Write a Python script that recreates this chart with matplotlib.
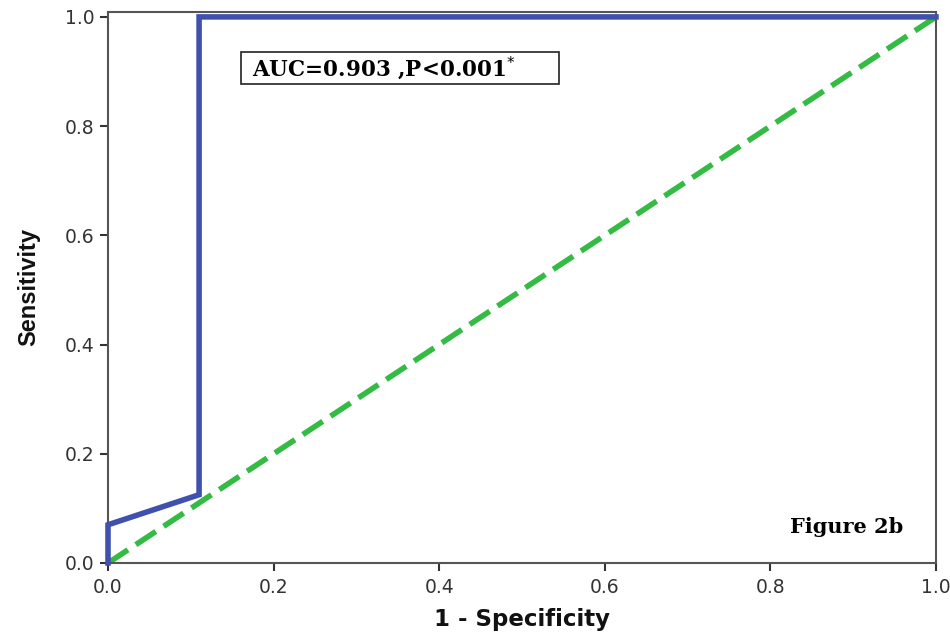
import numpy as np
import matplotlib.pyplot as plt
from matplotlib.patches import Rectangle

# ROC curve
fpr = [0.0, 0.0, 0.11, 0.11, 1.0]
tpr = [0.0, 0.07, 0.125, 1.0, 1.0]
ref_x = [0.0, 1.0]
ref_y = [0.0, 1.0]
ticks = [0.0, 0.2, 0.4, 0.6, 0.8, 1.0]

fig = plt.figure(figsize=(9.5, 6.35), dpi=100)
ax = fig.add_axes([108 / 950, 1 - 563 / 635, 828 / 950, 551 / 635])

ax.plot(ref_x, ref_y, color="#33bb44", linewidth=4, dashes=(4.3, 1.7),
        solid_capstyle="butt", zorder=2)
ax.plot(fpr, tpr, color="#3f51ac", linewidth=4, zorder=3,
        solid_joinstyle="miter", clip_on=False)

ax.set_xlim(0, 1.0)
ax.set_ylim(0, 1.009)
ax.set_xticks(ticks)
ax.set_yticks(ticks)
ax.set_xticklabels([f"{t:.1f}" for t in ticks])
ax.set_yticklabels([f"{t:.1f}" for t in ticks])
ax.tick_params(axis="both", labelsize=13.5, length=6, width=1.5,
               colors="#333333", labelcolor="#333333")
ax.tick_params(axis="x", pad=5)
for lab in ax.get_xticklabels() + ax.get_yticklabels():
    lab.set_family("DejaVu Sans")
for s in ax.spines.values():
    s.set_color("#555555")
    s.set_linewidth(1.5)

ax.set_xlabel("1 - Specificity", fontsize=16.5, fontweight="bold",
              family="DejaVu Sans", labelpad=8, color="#111111")
ax.set_ylabel("Sensitivity", fontsize=17, fontweight="bold",
              family=["Liberation Sans Narrow", "Liberation Sans"],
              labelpad=18, color="#111111")

# annotation box
ax.add_patch(Rectangle((0.1606, 0.877), 0.384, 0.059, transform=ax.transData,
                       facecolor="white", edgecolor="#222222", linewidth=1.2,
                       zorder=4))
ax.text(0.174, 0.906, "AUC=0.903 ,P<0.001$^{*}$", fontsize=15.5,
        fontweight="bold", family="DejaVu Serif", ha="left", va="center",
        zorder=5)
ax.text(0.96, 0.066, "Figure 2b", fontsize=15,
        fontweight="bold", family="DejaVu Serif", ha="right", va="center")

fig.savefig("out.png", dpi=100)
